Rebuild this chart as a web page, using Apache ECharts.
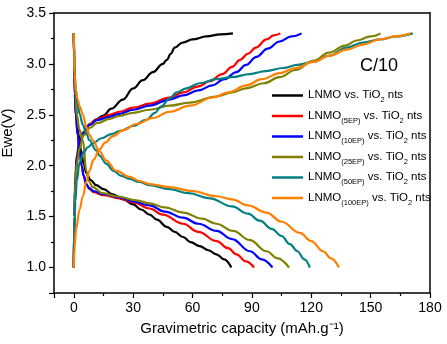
<!DOCTYPE html>
<html>
<head>
<meta charset="utf-8">
<script src="https://cdn.jsdelivr.net/npm/echarts@6/dist/echarts.min.js"></script>
<style>
  html, body { margin: 0; padding: 0; background: #fff; }
  #chart { width: 447px; height: 344px; }
</style>
</head>
<body>
<div id="chart"></div>
<script>
// legend names / subscripts / colours
const names = ['LNMO vs. TiO2 nts', 'LNMO(5EP) vs. TiO2 nts', 'LNMO(10EP) vs. TiO2 nts',
  'LNMO(25EP) vs. TiO2 nts', 'LNMO(50EP) vs. TiO2 nts', 'LNMO(100EP) vs. TiO2 nts'];
const subs = ['', '5EP', '10EP', '25EP', '50EP', '100EP'];
const colors = ['#000000', '#ff0000', '#0000ff', '#808000', '#008080', '#ff8000'];

// charge curves  [capacity (mAh/g), Ewe (V)]
const chargeLNMO = [[0,1.0],[0.3,1.5],[0.8,1.9],[1.5,2.1],[3,2.25],[5,2.33],[7.9,2.40],[11,2.45],[14.7,2.49],[19,2.56],[24.8,2.65],[30,2.76],[34.9,2.84],[40,2.92],[45,3.0],[47,3.04],[49,3.10],[51,3.16],[55,3.21],[60,3.24],[67,3.27],[74,3.29],[80.4,3.30]];
const charge5EP = [[0,1.0],[0.3,1.5],[0.8,1.85],[1.5,2.05],[3,2.22],[5,2.33],[7.9,2.41],[12,2.46],[18,2.50],[23.1,2.53],[30,2.57],[38.3,2.61],[48.4,2.67],[55.2,2.72],[63,2.78],[68.7,2.83],[75,2.90],[80,2.97],[84,3.04],[88,3.10],[92,3.16],[97.4,3.24],[101,3.28],[104.4,3.30]];
const charge10EP = [[0,1.0],[0.3,1.5],[0.8,1.85],[1.5,2.05],[3,2.22],[5,2.32],[7.9,2.40],[12,2.45],[18,2.48],[23.1,2.51],[30,2.55],[38.3,2.59],[48.4,2.65],[55.2,2.69],[63,2.74],[70,2.79],[76,2.85],[82.2,2.92],[87,2.99],[92.3,3.07],[98,3.15],[104,3.22],[110,3.27],[115.1,3.30]];
const charge25EP = [[0,1.0],[0.3,1.5],[0.8,1.85],[1.5,2.02],[2.9,2.17],[5,2.30],[7.9,2.37],[12,2.42],[18,2.46],[23.1,2.49],[30,2.52],[38.3,2.55],[48.4,2.59],[58.6,2.62],[72,2.68],[80,2.72],[87,2.76],[96,2.81],[104,2.87],[112,2.94],[121,3.03],[129,3.11],[137,3.18],[143,3.23],[150,3.27],[155,3.30]];
const charge50EP = [[0,1.0],[0.3,1.4],[0.8,1.65],[1.5,1.85],[2.9,2.03],[5,2.13],[7,2.18],[9.6,2.22],[14,2.27],[19,2.31],[23.1,2.34],[30,2.39],[36.6,2.45],[41,2.52],[44,2.58],[48.4,2.66],[52,2.72],[56.9,2.76],[63.6,2.81],[72,2.85],[80,2.87],[88.9,2.90],[97,2.93],[105.8,2.96],[113,2.99],[121,3.02],[129,3.08],[137.9,3.16],[146,3.21],[154.7,3.24],[163,3.27],[171.3,3.30]];
const charge100EP = [[0,1.0],[0.4,1.2],[1.2,1.38],[2.9,1.57],[4.6,1.70],[6.3,1.84],[7.9,1.95],[10,2.06],[13,2.16],[16,2.23],[19.7,2.29],[25,2.35],[31.6,2.41],[40,2.47],[48.4,2.53],[58.6,2.59],[70.3,2.67],[78,2.72],[87.2,2.79],[95,2.85],[104.1,2.91],[112,2.96],[121,3.02],[129,3.08],[137.9,3.14],[146,3.19],[154.7,3.24],[162,3.27],[170.2,3.30]];

// discharge curves
const dischargeLNMO = [[0,3.3],[0.3,3.0],[0.8,2.7],[1.5,2.5],[2.5,2.3],[3.7,2.15],[5,2.02],[6.3,1.93],[8.5,1.86],[11.3,1.81],[15,1.77],[19.7,1.72],[25,1.67],[30,1.62],[34,1.57],[38.3,1.52],[42,1.47],[47,1.40],[51,1.35],[55.2,1.30],[59,1.25],[63.6,1.21],[68,1.17],[72,1.13],[76,1.08],[79.6,1.0]];
const discharge5EP = [[0,3.3],[0.2,3.0],[0.5,2.7],[1,2.5],[2,2.3],[2.9,2.15],[4,2.0],[5,1.9],[6.3,1.82],[7.9,1.77],[10,1.74],[15,1.71],[23.1,1.68],[30,1.64],[38.3,1.58],[45,1.52],[55.2,1.43],[63,1.35],[72.1,1.26],[78,1.19],[82.2,1.13],[87,1.06],[91.1,1.0]];
const discharge10EP = [[0,3.3],[0.2,3.0],[0.5,2.7],[1,2.5],[2,2.3],[2.9,2.15],[4,2.0],[5,1.9],[6.3,1.82],[7.9,1.78],[10,1.75],[15,1.72],[23.1,1.69],[30,1.65],[38.3,1.61],[46,1.55],[55.2,1.49],[63,1.43],[72.1,1.36],[80,1.28],[89,1.16],[95,1.08],[100.4,1.0]];
const discharge25EP = [[0,3.3],[0.3,3.0],[0.8,2.7],[1.5,2.5],[2.9,2.35],[4.6,2.25],[6.3,1.95],[7.5,1.85],[9.6,1.79],[14.7,1.73],[21.5,1.70],[31.6,1.66],[38.3,1.63],[46,1.59],[55.2,1.54],[65,1.48],[72,1.43],[80.5,1.36],[89,1.27],[97.4,1.16],[103,1.09],[108.8,1.0]];
const discharge50EP = [[0,3.3],[0.2,3.1],[0.5,2.9],[1,2.72],[2,2.6],[2.9,2.51],[4.6,2.4],[6.3,2.32],[7.9,2.25],[11.3,2.15],[13,2.10],[16.4,2.02],[20,1.95],[24,1.90],[28.2,1.87],[33,1.84],[38.3,1.81],[48.4,1.77],[58,1.73],[68.7,1.68],[80,1.60],[88,1.53],[94,1.46],[100,1.38],[105,1.31],[109.2,1.23],[113,1.16],[116.5,1.08],[119.3,1.0]];
const discharge100EP = [[0,3.3],[0.2,3.1],[0.4,2.9],[1,2.75],[2,2.65],[3,2.58],[4.6,2.50],[6.3,2.38],[8,2.30],[9.6,2.25],[13,2.14],[16.4,2.05],[21.5,1.95],[28.2,1.89],[33.2,1.85],[38.3,1.82],[48.4,1.79],[60,1.75],[72,1.70],[80,1.67],[88,1.61],[97.4,1.54],[105,1.45],[114.2,1.34],[120,1.26],[126,1.16],[130,1.09],[134,1.0]];

const charges = [chargeLNMO, charge5EP, charge10EP, charge25EP, charge50EP, charge100EP];
const discharges = [dischargeLNMO, discharge5EP, discharge10EP, discharge25EP, discharge50EP, discharge100EP];

let chart = echarts.init(document.getElementById('chart'));

let series = [];
names.forEach(function (name, i) {
  [discharges[i], charges[i]].forEach(function (d) {
    series.push({
      name: name,
      type: 'line',
      data: d,
      showSymbol: false,
      symbol: 'none',
      smooth: 0.4,
      smoothMonotone: 'x',
      color: colors[i],
      lineStyle: { width: 2.2, color: colors[i] }
    });
  });
});

const frameLine = { onZero: false, lineStyle: { color: '#000', width: 1.5 } };

chart.setOption({
  animation: false,
  textStyle: { fontFamily: 'Arial, "Liberation Sans", sans-serif' },
  title: {
    text: 'C/10',
    left: 360,
    top: 57,
    padding: 0,
    textStyle: { fontSize: 18, fontWeight: 'normal', color: '#000' }
  },
  legend: {
    orient: 'vertical',
    left: 272,
    top: 89,
    padding: 0,
    icon: 'rect',
    itemWidth: 31,
    itemHeight: 2.5,
    itemGap: 5.5,
    data: names,
    formatter: function (name) {
      const s = subs[names.indexOf(name)];
      return '{m|LNMO}' + (s ? '{s|(' + s + ')}' : '') + '{m| vs. TiO}{s|2}{m| nts}';
    },
    textStyle: {
      rich: {
        m: { fontSize: 11.5, lineHeight: 13, verticalAlign: 'top', color: '#000' },
        s: { fontSize: 7.5, lineHeight: 9, verticalAlign: 'top', padding: [7, 0, 0, 0], color: '#000' }
      }
    }
  },
  grid: { left: 54, right: 17, top: 13, bottom: 51, outerBoundsMode: 'none' },
  xAxis: [{
    type: 'value',
    min: -10,
    max: 180,
    splitNumber: 6,
    name: 'Gravimetric capacity (mAh.g⁻¹)',
    nameLocation: 'middle',
    nameGap: 28,
    nameTextStyle: { fontSize: 15, color: '#000' },
    axisLine: frameLine,
    axisTick: { inside: false, length: 5, lineStyle: { color: '#000', width: 1.2 } },
    minorTick: { show: true, splitNumber: 2, length: 3, lineStyle: { color: '#000', width: 1.2 } },
    axisLabel: {
      fontSize: 14, color: '#000', margin: 8,
      formatter: function (v) { return v < 0 ? '' : String(v); }
    },
    splitLine: { show: false }
  }, {
    type: 'value', position: 'top', min: -10, max: 180,
    axisLine: frameLine, axisTick: { show: false }, axisLabel: { show: false }, splitLine: { show: false }
  }],
  yAxis: [{
    type: 'value',
    min: 0.75,
    max: 3.5,
    splitNumber: 5,
    name: 'Ewe(V)',
    nameLocation: 'middle',
    nameGap: 36,
    nameTextStyle: { fontSize: 15, color: '#000', padding: [0, 0, 0, 40] },
    axisLine: frameLine,
    axisTick: { inside: false, length: 5, lineStyle: { color: '#000', width: 1.2 } },
    minorTick: { show: true, splitNumber: 2, length: 3, lineStyle: { color: '#000', width: 1.2 } },
    axisLabel: {
      fontSize: 14, color: '#000', margin: 8,
      formatter: function (v) { return v < 0.9 ? '' : v.toFixed(1); }
    },
    splitLine: { show: false }
  }, {
    type: 'value', position: 'right', min: 0.75, max: 3.5,
    axisLine: frameLine, axisTick: { show: false }, axisLabel: { show: false }, splitLine: { show: false }
  }],
  series: series
});
</script>
</body>
</html>
